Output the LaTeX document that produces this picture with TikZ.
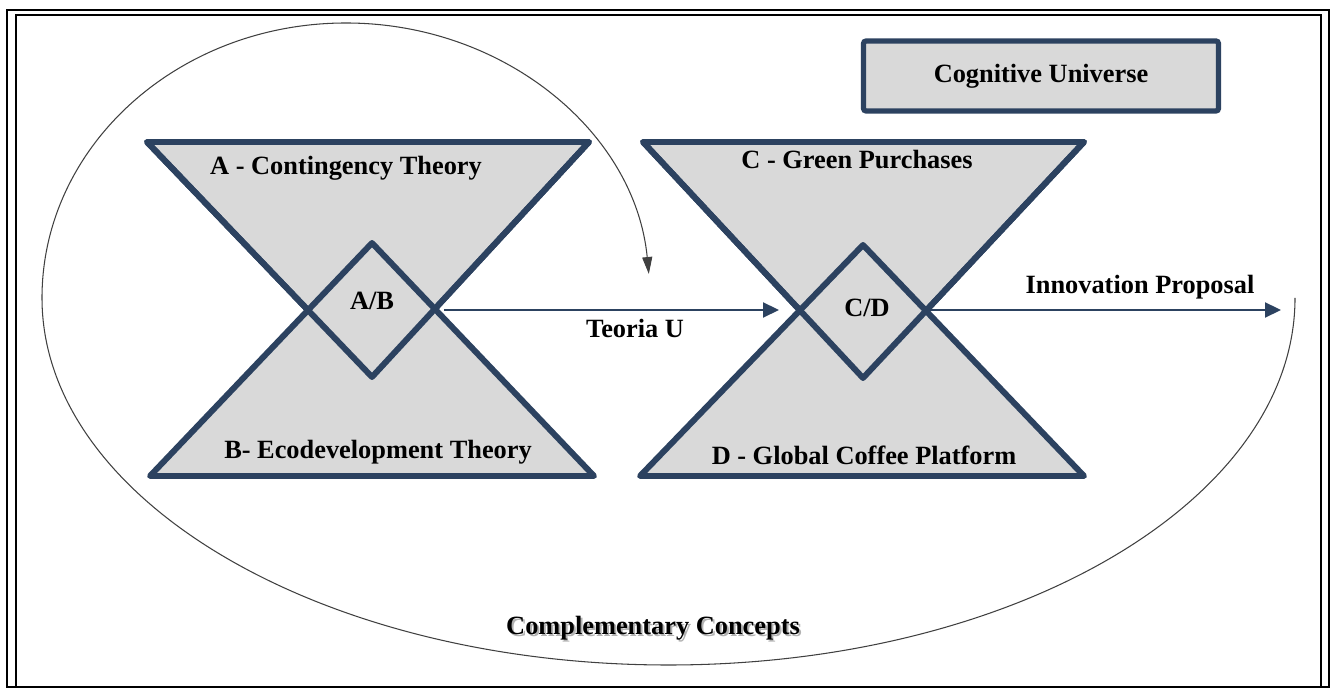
\documentclass[tikz,border=0pt]{standalone}
\usepackage{fontspec}
\setmainfont{Liberation Serif}
\usetikzlibrary{arrows.meta}
\definecolor{hgblue}{HTML}{2C4260}
\definecolor{hggray}{HTML}{D9D9D9}

\begin{document}
\begin{tikzpicture}[x=0.2mm,y=0.2mm,
    wedge/.style={draw=hgblue,fill=hggray,line width=3.4pt,line join=round},
    rim/.style={draw=hgblue,line width=3.4pt,line join=round},
    lbl/.style={font=\fontsize{15}{18}\selectfont\bfseries,inner sep=0pt},
    flow/.style={draw=hgblue,line width=1.2pt,-{Triangle[length=3.2mm,width=3mm]}},
    loopline/.style={draw=black!75,line width=0.6pt,-{Triangle[length=3.4mm,width=2mm]}}]
      \useasboundingbox (0,0) rectangle (1330,688);
      \draw[black,line width=1.5pt] (7,1) rectangle (1329,678);
      \draw[black,line width=0.8pt] (16,1) rectangle (1321,673);
      \coordinate (loopstart) at (1295,390);
      \draw[loopline] (loopstart) arc[start angle=0,end angle=-180,x radius=626.5,y radius=367]
            arc[start angle=180,end angle=5,x radius=304,y radius=275];
      \path[wedge] (147,546)--(589,546)--(372,311)--cycle;
      \path[wedge] (150,212)--(594,212)--(372,445)--cycle;
      \path[rim] (147,546)--(589,546)--(372,311)--cycle;
      \path[wedge] (643,546)--(1084,546)--(863,310)--cycle;
      \path[wedge] (640,212)--(1084,212)--(863,443)--cycle;
      \path[rim] (643,546)--(1084,546)--(863,310)--cycle;
      \coordinate (ABr) at (431,378);
      \coordinate (CDl) at (800,378);
      \coordinate (CDr) at (924,378);
      \coordinate (ipend) at (1281,378);
      \draw[flow,shorten <=2.6mm,shorten >=4.2mm] (ABr) -- (CDl);
      \draw[flow,shorten <=0.8mm] (CDr) -- (ipend);
      \node[lbl] (A) at (346,520) {A - Contingency Theory};
      \node[lbl] (B) at (378,236) {B- Ecodevelopment Theory};
      \node[lbl] (AB) at (372,387) {A/B};
      \node[lbl] (C) at (857,528) {C - Green Purchases};
      \node[lbl] (D) at (864,233) {D - Global Coffee Platform};
      \node[lbl] (CD) at (867,380) {C/D};
      \node[lbl] (teoria) at (635,360) {Teoria U};
      \node[lbl] (innov) at (1140,401) {Innovation Proposal};
      \node[lbl,draw=hgblue,fill=hggray,line width=3pt,rounded corners=1.5pt,
            minimum width=71mm,minimum height=14mm] (cog) at (1041,612) {Cognitive Universe};
      \node[lbl,text=black!30] (compshadow) at (655,58) {Complementary Concepts};
      \node[lbl] (comp) at (653,60) {Complementary Concepts};
\end{tikzpicture}
\end{document}
